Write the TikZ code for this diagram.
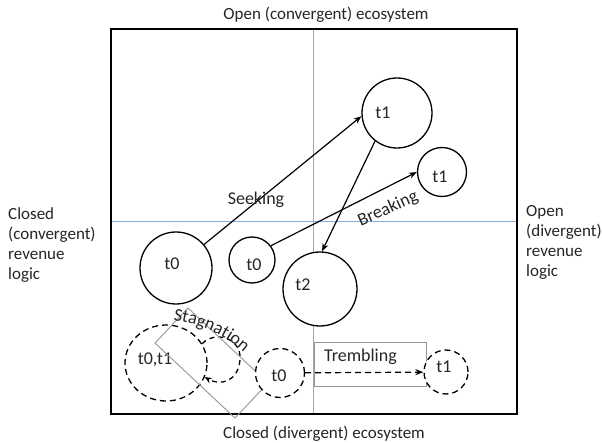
\documentclass[tikz,border=0pt]{standalone}
\usepackage{fontspec}
\setmainfont{Carlito}
\usetikzlibrary{arrows.meta,decorations.text,shapes.geometric}
\definecolor{gridblue}{RGB}{135,172,222}
\definecolor{boxgray}{RGB}{150,150,150}
\definecolor{txt}{RGB}{38,38,38}
\begin{document}
\begin{tikzpicture}[x=1pt,y=-1pt,
  solidc/.style={circle,draw=black,fill=white,line width=1.3pt,inner sep=0pt},
  dashc/.style={circle,draw=black,fill=white,line width=1.3pt,inner sep=0pt,dash pattern=on 6pt off 4pt},
  arr/.style={line width=1.2pt,-{Stealth[length=8pt,width=6pt]}},
  inlab/.style={font=\fontsize{18}{21}\selectfont,text=txt,inner sep=0pt},
  outlab/.style={font=\fontsize{17}{20}\selectfont,text=txt,align=left,inner sep=0pt},
  gridline/.style={draw=gridblue,line width=1.4pt},
]
\useasboundingbox[fill=white] (0,0) rectangle (602,443);
% frame and axes
\coordinate (ft) at (313.5,29);
\coordinate (fb) at (313.5,414);
\coordinate (fl) at (111,221.5);
\coordinate (fr) at (517,221.5);
\draw[gridline] (ft) -- (fb);
\draw[gridline] (fl) -- (fr);
\draw[line width=1.6pt] (111,29) rectangle (517,414);
% outer labels
\node[outlab] (top) at (326,15) {Open (convergent) ecosystem};
\node[outlab] (bot) at (324,434) {Closed (divergent) ecosystem};
\node[outlab,anchor=west] (lft) at (8,245) {Closed\\(convergent)\\revenue\\logic};
\node[outlab,anchor=west] (rgt) at (526,242) {Open\\(divergent)\\revenue\\logic};
% solid circles
\node[solidc,minimum size=72pt,label={[inlab,xshift=-4pt,yshift=4pt]center:t0}] (t0big) at (176,268) {};
\node[solidc,minimum size=46pt,label={[inlab,xshift=2pt,yshift=-5pt]center:t0}] (t0mid) at (252,260) {};
\node[solidc,minimum size=70pt,label={[inlab,xshift=-14pt]center:t1}] (t1top) at (397,113) {};
\node[solidc,minimum size=49pt,label={[inlab,xshift=-2pt,yshift=-5pt]center:t1}] (t1s) at (442,172) {};
\node[solidc,minimum size=74pt,label={[inlab,xshift=-17pt,yshift=4pt]center:t2}] (t2) at (320,289) {};
% arrows
\draw[arr] (t0big.40) -- (t1top.185);
\draw[arr] (t0mid.37) -- (t1s.180);
\draw[arr] (t1top.232) -- (t2.87);
\node[inlab] (seek) at (256,200) {Seeking};
\node[inlab,rotate=24] (brk) at (388,209) {Breaking};
% stagnation
\node[ellipse,draw=black,line width=1.3pt,dash pattern=on 6pt off 4pt,minimum width=82pt,minimum height=76pt,inner sep=0pt,label={[inlab,xshift=-11pt,yshift=3pt]center:t0,t1}] (tt) at (166,363) {};
\draw[line width=1.3pt,dash pattern=on 5pt off 4pt,-{Stealth[length=7pt,width=6pt]}] (tt.28) .. controls (215,330) and (242,338) .. (240,360) .. controls (238,382) and (220,386) .. (tt.-20);
\draw[boxgray,line width=0.9pt] (188,308) -- (268,383) -- (235,418) -- (155,343) -- cycle;
\path[decorate,decoration={text along path,text={|\fontsize{18}{21}\selectfont|Stagnation},text align=center,text color=txt}] (162,319) .. controls (195,322) and (225,332) .. (252,360);
% trembling
\node[dashc,minimum size=49pt,label={[inlab,xshift=-1pt,yshift=-3pt]center:t0}] (t0d) at (280,373) {};
\node[draw=boxgray,line width=0.9pt,minimum width=112pt,minimum height=44pt,anchor=north west,inner sep=0pt] (trb) at (314,342) {};
\node[inlab,anchor=north,xshift=-10pt,yshift=-7pt] (trl) at (trb.north) {Trembling};
\node[dashc,minimum size=44pt,label={[inlab,xshift=-2pt,yshift=5pt]center:t1}] (t1d) at (446,372) {};
\draw[arr,dash pattern=on 6pt off 4pt] (t0d) -- (t1d);
\end{tikzpicture}
\end{document}
